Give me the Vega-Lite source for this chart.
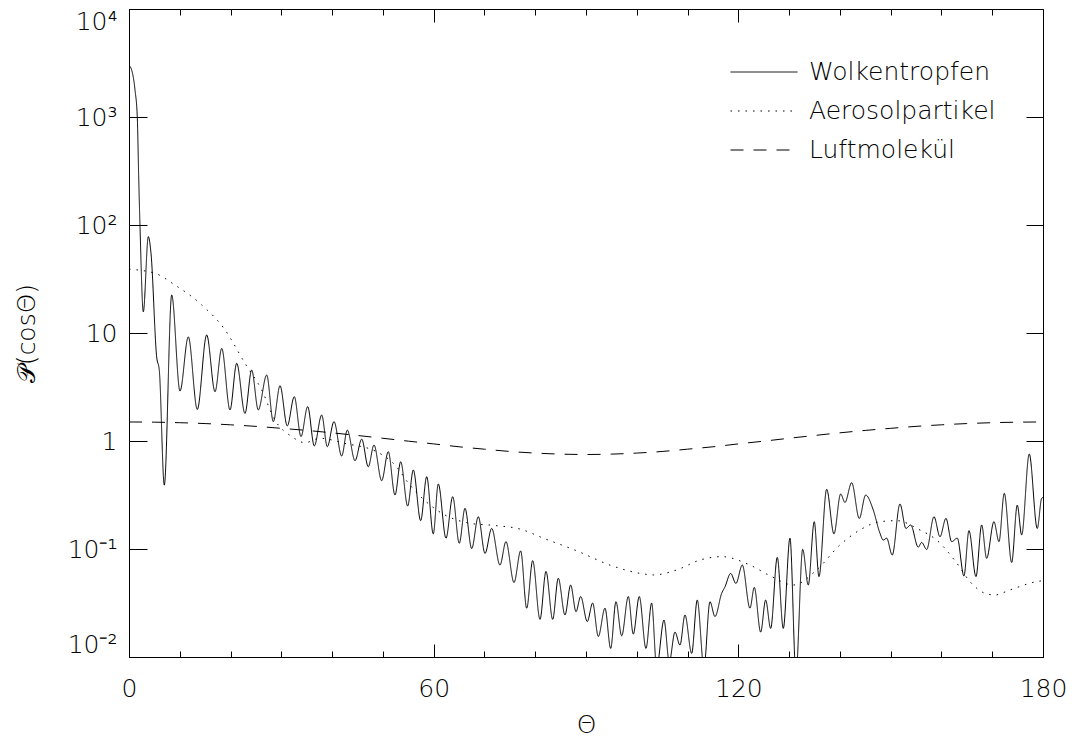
{
  "$schema": "https://vega.github.io/schema/vega-lite/v6.json",
  "width": 914,
  "height": 648,
  "autosize": {"type": "none"},
  "padding": {"left": 129, "top": 9, "right": 32, "bottom": 80},
  "background": "white",
  "config": {
    "view": {"stroke": "black", "strokeWidth": 1},
    "font": "DejaVu Sans",
    "axis": {"grid": false, "domainColor": "black", "tickColor": "black", "tickWidth": 1, "labelColor": "black", "titleColor": "black", "labelFont": "DejaVu Sans", "titleFont": "DejaVu Sans", "labelFontWeight": 200, "titleFontWeight": 200, "labelFontSize": 25, "titleFontSize": 25}
  },
  "datasets": {
    "d": [
      {"t": 0, "P": 3000, "s": "Wolkentropfen"},
      {"t": 0.53, "P": 2720, "s": "Wolkentropfen"},
      {"t": 1.18, "P": 1780, "s": "Wolkentropfen"},
      {"t": 1.63, "P": 1000, "s": "Wolkentropfen"},
      {"t": 1.91, "P": 277, "s": "Wolkentropfen"},
      {"t": 2.17, "P": 96, "s": "Wolkentropfen"},
      {"t": 2.82, "P": 15.7, "s": "Wolkentropfen"},
      {"t": 3.8, "P": 78, "s": "Wolkentropfen"},
      {"t": 4.33, "P": 55, "s": "Wolkentropfen"},
      {"t": 5.45, "P": 6.0, "s": "Wolkentropfen"},
      {"t": 5.97, "P": 4.5, "s": "Wolkentropfen"},
      {"t": 6.95, "P": 0.39, "s": "Wolkentropfen"},
      {"t": 8.41, "P": 22.5, "s": "Wolkentropfen"},
      {"t": 10.04, "P": 2.9, "s": "Wolkentropfen"},
      {"t": 11.68, "P": 9.2, "s": "Wolkentropfen"},
      {"t": 13.45, "P": 1.96, "s": "Wolkentropfen"},
      {"t": 15.3, "P": 9.6, "s": "Wolkentropfen"},
      {"t": 16.94, "P": 2.86, "s": "Wolkentropfen"},
      {"t": 18.26, "P": 7.2, "s": "Wolkentropfen"},
      {"t": 19.89, "P": 1.94, "s": "Wolkentropfen"},
      {"t": 21.21, "P": 5.24, "s": "Wolkentropfen"},
      {"t": 22.84, "P": 1.8, "s": "Wolkentropfen"},
      {"t": 24.16, "P": 4.54, "s": "Wolkentropfen"},
      {"t": 25.46, "P": 1.94, "s": "Wolkentropfen"},
      {"t": 27.12, "P": 4.08, "s": "Wolkentropfen"},
      {"t": 28.42, "P": 1.51, "s": "Wolkentropfen"},
      {"t": 29.74, "P": 3.25, "s": "Wolkentropfen"},
      {"t": 31.17, "P": 1.38, "s": "Wolkentropfen"},
      {"t": 32.55, "P": 2.57, "s": "Wolkentropfen"},
      {"t": 33.87, "P": 1.1, "s": "Wolkentropfen"},
      {"t": 35.19, "P": 2.08, "s": "Wolkentropfen"},
      {"t": 36.49, "P": 0.9, "s": "Wolkentropfen"},
      {"t": 37.95, "P": 1.74, "s": "Wolkentropfen"},
      {"t": 39.05, "P": 0.886, "s": "Wolkentropfen"},
      {"t": 40.37, "P": 1.51, "s": "Wolkentropfen"},
      {"t": 41.89, "P": 0.726, "s": "Wolkentropfen"},
      {"t": 42.99, "P": 1.26, "s": "Wolkentropfen"},
      {"t": 44.51, "P": 0.657, "s": "Wolkentropfen"},
      {"t": 45.83, "P": 1.04, "s": "Wolkentropfen"},
      {"t": 47.12, "P": 0.578, "s": "Wolkentropfen"},
      {"t": 48.25, "P": 0.918, "s": "Wolkentropfen"},
      {"t": 49.76, "P": 0.429, "s": "Wolkentropfen"},
      {"t": 51.06, "P": 0.796, "s": "Wolkentropfen"},
      {"t": 52.38, "P": 0.316, "s": "Wolkentropfen"},
      {"t": 53.51, "P": 0.643, "s": "Wolkentropfen"},
      {"t": 54.88, "P": 0.25, "s": "Wolkentropfen"},
      {"t": 55.99, "P": 0.539, "s": "Wolkentropfen"},
      {"t": 57.44, "P": 0.183, "s": "Wolkentropfen"},
      {"t": 58.63, "P": 0.467, "s": "Wolkentropfen"},
      {"t": 59.92, "P": 0.138, "s": "Wolkentropfen"},
      {"t": 60.91, "P": 0.4, "s": "Wolkentropfen"},
      {"t": 62.43, "P": 0.126, "s": "Wolkentropfen"},
      {"t": 63.75, "P": 0.305, "s": "Wolkentropfen"},
      {"t": 65.04, "P": 0.113, "s": "Wolkentropfen"},
      {"t": 66.17, "P": 0.238, "s": "Wolkentropfen"},
      {"t": 67.49, "P": 0.101, "s": "Wolkentropfen"},
      {"t": 68.79, "P": 0.199, "s": "Wolkentropfen"},
      {"t": 70.11, "P": 0.091, "s": "Wolkentropfen"},
      {"t": 71.43, "P": 0.155, "s": "Wolkentropfen"},
      {"t": 73.06, "P": 0.071, "s": "Wolkentropfen"},
      {"t": 74.24, "P": 0.117, "s": "Wolkentropfen"},
      {"t": 75.82, "P": 0.049, "s": "Wolkentropfen"},
      {"t": 77.14, "P": 0.096, "s": "Wolkentropfen"},
      {"t": 78.32, "P": 0.0283, "s": "Wolkentropfen"},
      {"t": 79.5, "P": 0.078, "s": "Wolkentropfen"},
      {"t": 80.94, "P": 0.0223, "s": "Wolkentropfen"},
      {"t": 82.12, "P": 0.062, "s": "Wolkentropfen"},
      {"t": 83.44, "P": 0.0223, "s": "Wolkentropfen"},
      {"t": 84.54, "P": 0.0536, "s": "Wolkentropfen"},
      {"t": 85.86, "P": 0.0245, "s": "Wolkentropfen"},
      {"t": 86.98, "P": 0.0464, "s": "Wolkentropfen"},
      {"t": 88.03, "P": 0.0263, "s": "Wolkentropfen"},
      {"t": 88.95, "P": 0.0363, "s": "Wolkentropfen"},
      {"t": 90.25, "P": 0.0213, "s": "Wolkentropfen"},
      {"t": 91.31, "P": 0.0316, "s": "Wolkentropfen"},
      {"t": 92.42, "P": 0.0155, "s": "Wolkentropfen"},
      {"t": 93.74, "P": 0.0283, "s": "Wolkentropfen"},
      {"t": 94.86, "P": 0.012, "s": "Wolkentropfen"},
      {"t": 95.9, "P": 0.0325, "s": "Wolkentropfen"},
      {"t": 97.03, "P": 0.0157, "s": "Wolkentropfen"},
      {"t": 98.33, "P": 0.0363, "s": "Wolkentropfen"},
      {"t": 99.31, "P": 0.0163, "s": "Wolkentropfen"},
      {"t": 100.49, "P": 0.0363, "s": "Wolkentropfen"},
      {"t": 101.81, "P": 0.012, "s": "Wolkentropfen"},
      {"t": 102.93, "P": 0.0316, "s": "Wolkentropfen"},
      {"t": 103.92, "P": 0.008, "s": "Wolkentropfen"},
      {"t": 105.36, "P": 0.022, "s": "Wolkentropfen"},
      {"t": 106.4, "P": 0.009, "s": "Wolkentropfen"},
      {"t": 107.52, "P": 0.017, "s": "Wolkentropfen"},
      {"t": 108.51, "P": 0.0129, "s": "Wolkentropfen"},
      {"t": 109.49, "P": 0.0245, "s": "Wolkentropfen"},
      {"t": 110.81, "P": 0.0108, "s": "Wolkentropfen"},
      {"t": 111.91, "P": 0.0337, "s": "Wolkentropfen"},
      {"t": 113.23, "P": 0.008, "s": "Wolkentropfen"},
      {"t": 114.41, "P": 0.0325, "s": "Wolkentropfen"},
      {"t": 115.4, "P": 0.0237, "s": "Wolkentropfen"},
      {"t": 116.72, "P": 0.0389, "s": "Wolkentropfen"},
      {"t": 117.37, "P": 0.0446, "s": "Wolkentropfen"},
      {"t": 118.49, "P": 0.0594, "s": "Wolkentropfen"},
      {"t": 119.53, "P": 0.048, "s": "Wolkentropfen"},
      {"t": 120.78, "P": 0.071, "s": "Wolkentropfen"},
      {"t": 122.29, "P": 0.0283, "s": "Wolkentropfen"},
      {"t": 123.14, "P": 0.0441, "s": "Wolkentropfen"},
      {"t": 124.4, "P": 0.017, "s": "Wolkentropfen"},
      {"t": 125.38, "P": 0.0337, "s": "Wolkentropfen"},
      {"t": 126.37, "P": 0.0184, "s": "Wolkentropfen"},
      {"t": 127.67, "P": 0.0837, "s": "Wolkentropfen"},
      {"t": 128.85, "P": 0.0184, "s": "Wolkentropfen"},
      {"t": 130.17, "P": 0.126, "s": "Wolkentropfen"},
      {"t": 131.35, "P": 0.007, "s": "Wolkentropfen"},
      {"t": 132.67, "P": 0.0994, "s": "Wolkentropfen"},
      {"t": 133.77, "P": 0.0464, "s": "Wolkentropfen"},
      {"t": 134.95, "P": 0.179, "s": "Wolkentropfen"},
      {"t": 135.88, "P": 0.0555, "s": "Wolkentropfen"},
      {"t": 137.4, "P": 0.357, "s": "Wolkentropfen"},
      {"t": 138.83, "P": 0.138, "s": "Wolkentropfen"},
      {"t": 140.15, "P": 0.323, "s": "Wolkentropfen"},
      {"t": 141.0, "P": 0.27, "s": "Wolkentropfen"},
      {"t": 142.32, "P": 0.411, "s": "Wolkentropfen"},
      {"t": 143.82, "P": 0.192, "s": "Wolkentropfen"},
      {"t": 145.08, "P": 0.316, "s": "Wolkentropfen"},
      {"t": 146.57, "P": 0.23, "s": "Wolkentropfen"},
      {"t": 147.89, "P": 0.14, "s": "Wolkentropfen"},
      {"t": 148.54, "P": 0.121, "s": "Wolkentropfen"},
      {"t": 149.21, "P": 0.126, "s": "Wolkentropfen"},
      {"t": 150.31, "P": 0.088, "s": "Wolkentropfen"},
      {"t": 151.83, "P": 0.261, "s": "Wolkentropfen"},
      {"t": 153.01, "P": 0.155, "s": "Wolkentropfen"},
      {"t": 153.94, "P": 0.167, "s": "Wolkentropfen"},
      {"t": 155.43, "P": 0.104, "s": "Wolkentropfen"},
      {"t": 156.1, "P": 0.115, "s": "Wolkentropfen"},
      {"t": 157.09, "P": 0.099, "s": "Wolkentropfen"},
      {"t": 158.53, "P": 0.199, "s": "Wolkentropfen"},
      {"t": 159.71, "P": 0.13, "s": "Wolkentropfen"},
      {"t": 160.89, "P": 0.192, "s": "Wolkentropfen"},
      {"t": 162.01, "P": 0.117, "s": "Wolkentropfen"},
      {"t": 163.12, "P": 0.126, "s": "Wolkentropfen"},
      {"t": 164.43, "P": 0.0562, "s": "Wolkentropfen"},
      {"t": 165.42, "P": 0.148, "s": "Wolkentropfen"},
      {"t": 166.8, "P": 0.0555, "s": "Wolkentropfen"},
      {"t": 167.92, "P": 0.167, "s": "Wolkentropfen"},
      {"t": 168.9, "P": 0.082, "s": "Wolkentropfen"},
      {"t": 170.34, "P": 0.179, "s": "Wolkentropfen"},
      {"t": 171.33, "P": 0.117, "s": "Wolkentropfen"},
      {"t": 172.37, "P": 0.328, "s": "Wolkentropfen"},
      {"t": 173.83, "P": 0.075, "s": "Wolkentropfen"},
      {"t": 174.93, "P": 0.255, "s": "Wolkentropfen"},
      {"t": 175.8, "P": 0.135, "s": "Wolkentropfen"},
      {"t": 177.29, "P": 0.758, "s": "Wolkentropfen"},
      {"t": 178.87, "P": 0.155, "s": "Wolkentropfen"},
      {"t": 179.73, "P": 0.294, "s": "Wolkentropfen"},
      {"t": 180, "P": 0.3, "s": "Wolkentropfen"},
      {"t": 0, "P": 39, "s": "Aerosolpartikel"},
      {"t": 5.12, "P": 35.7, "s": "Aerosolpartikel"},
      {"t": 9.06, "P": 27.8, "s": "Aerosolpartikel"},
      {"t": 14.32, "P": 18.2, "s": "Aerosolpartikel"},
      {"t": 18.9, "P": 10.7, "s": "Aerosolpartikel"},
      {"t": 22.84, "P": 5.24, "s": "Aerosolpartikel"},
      {"t": 26.13, "P": 2.97, "s": "Aerosolpartikel"},
      {"t": 28.75, "P": 1.56, "s": "Aerosolpartikel"},
      {"t": 32.04, "P": 1.1, "s": "Aerosolpartikel"},
      {"t": 34.66, "P": 0.965, "s": "Aerosolpartikel"},
      {"t": 37.61, "P": 1.06, "s": "Aerosolpartikel"},
      {"t": 42.5, "P": 0.95, "s": "Aerosolpartikel"},
      {"t": 48.78, "P": 0.796, "s": "Aerosolpartikel"},
      {"t": 52.38, "P": 0.6, "s": "Aerosolpartikel"},
      {"t": 55.34, "P": 0.39, "s": "Aerosolpartikel"},
      {"t": 60.59, "P": 0.23, "s": "Aerosolpartikel"},
      {"t": 67.15, "P": 0.173, "s": "Aerosolpartikel"},
      {"t": 72.07, "P": 0.165, "s": "Aerosolpartikel"},
      {"t": 77.0, "P": 0.153, "s": "Aerosolpartikel"},
      {"t": 81.59, "P": 0.126, "s": "Aerosolpartikel"},
      {"t": 88.16, "P": 0.0963, "s": "Aerosolpartikel"},
      {"t": 94.72, "P": 0.071, "s": "Aerosolpartikel"},
      {"t": 101.28, "P": 0.0588, "s": "Aerosolpartikel"},
      {"t": 103.25, "P": 0.0575, "s": "Aerosolpartikel"},
      {"t": 107.86, "P": 0.064, "s": "Aerosolpartikel"},
      {"t": 112.45, "P": 0.079, "s": "Aerosolpartikel"},
      {"t": 116.72, "P": 0.085, "s": "Aerosolpartikel"},
      {"t": 122.29, "P": 0.071, "s": "Aerosolpartikel"},
      {"t": 126.57, "P": 0.0555, "s": "Aerosolpartikel"},
      {"t": 130.82, "P": 0.0464, "s": "Aerosolpartikel"},
      {"t": 135.43, "P": 0.064, "s": "Aerosolpartikel"},
      {"t": 140.02, "P": 0.109, "s": "Aerosolpartikel"},
      {"t": 143.95, "P": 0.15, "s": "Aerosolpartikel"},
      {"t": 147.89, "P": 0.179, "s": "Aerosolpartikel"},
      {"t": 151.18, "P": 0.183, "s": "Aerosolpartikel"},
      {"t": 155.77, "P": 0.15, "s": "Aerosolpartikel"},
      {"t": 159.06, "P": 0.121, "s": "Aerosolpartikel"},
      {"t": 163.0, "P": 0.0742, "s": "Aerosolpartikel"},
      {"t": 165.62, "P": 0.0499, "s": "Aerosolpartikel"},
      {"t": 168.57, "P": 0.0389, "s": "Aerosolpartikel"},
      {"t": 170.54, "P": 0.0375, "s": "Aerosolpartikel"},
      {"t": 173.49, "P": 0.0418, "s": "Aerosolpartikel"},
      {"t": 178.75, "P": 0.0499, "s": "Aerosolpartikel"},
      {"t": 180, "P": 0.051, "s": "Aerosolpartikel"},
      {"t": 0, "P": 1.5, "s": "Luftmolekül"},
      {"t": 5, "P": 1.494, "s": "Luftmolekül"},
      {"t": 10, "P": 1.477, "s": "Luftmolekül"},
      {"t": 15, "P": 1.45, "s": "Luftmolekül"},
      {"t": 20, "P": 1.412, "s": "Luftmolekül"},
      {"t": 25, "P": 1.366, "s": "Luftmolekül"},
      {"t": 30, "P": 1.31, "s": "Luftmolekül"},
      {"t": 35, "P": 1.253, "s": "Luftmolekül"},
      {"t": 40, "P": 1.19, "s": "Luftmolekül"},
      {"t": 45, "P": 1.125, "s": "Luftmolekül"},
      {"t": 50, "P": 1.06, "s": "Luftmolekül"},
      {"t": 55, "P": 0.997, "s": "Luftmolekül"},
      {"t": 60, "P": 0.94, "s": "Luftmolekül"},
      {"t": 65, "P": 0.884, "s": "Luftmolekül"},
      {"t": 70, "P": 0.84, "s": "Luftmolekül"},
      {"t": 75, "P": 0.8, "s": "Luftmolekül"},
      {"t": 80, "P": 0.773, "s": "Luftmolekül"},
      {"t": 85, "P": 0.756, "s": "Luftmolekül"},
      {"t": 90, "P": 0.75, "s": "Luftmolekül"},
      {"t": 95, "P": 0.756, "s": "Luftmolekül"},
      {"t": 100, "P": 0.773, "s": "Luftmolekül"},
      {"t": 105, "P": 0.8, "s": "Luftmolekül"},
      {"t": 110, "P": 0.84, "s": "Luftmolekül"},
      {"t": 115, "P": 0.884, "s": "Luftmolekül"},
      {"t": 120, "P": 0.94, "s": "Luftmolekül"},
      {"t": 125, "P": 0.997, "s": "Luftmolekül"},
      {"t": 130, "P": 1.06, "s": "Luftmolekül"},
      {"t": 135, "P": 1.125, "s": "Luftmolekül"},
      {"t": 140, "P": 1.19, "s": "Luftmolekül"},
      {"t": 145, "P": 1.253, "s": "Luftmolekül"},
      {"t": 150, "P": 1.31, "s": "Luftmolekül"},
      {"t": 155, "P": 1.366, "s": "Luftmolekül"},
      {"t": 160, "P": 1.412, "s": "Luftmolekül"},
      {"t": 165, "P": 1.45, "s": "Luftmolekül"},
      {"t": 170, "P": 1.477, "s": "Luftmolekül"},
      {"t": 175, "P": 1.494, "s": "Luftmolekül"},
      {"t": 180, "P": 1.5, "s": "Luftmolekül"}
    ]
  },
  "data": {"name": "d"},
  "layer": [
    {
      "mark": {"type": "line", "clip": true, "color": "black", "strokeWidth": 1, "interpolate": "monotone"},
      "encoding": {
        "x": {
          "field": "t", "type": "quantitative",
          "scale": {"domain": [0, 180], "nice": false, "zero": false},
          "axis": {
            "orient": "bottom",
            "values": [0, 10, 20, 30, 40, 50, 60, 70, 80, 90, 100, 110, 120, 130, 140, 150, 160, 170, 180],
            "labelExpr": "datum.value % 60 === 0 ? datum.label : ''",
            "tickSize": {"condition": {"test": "datum.value % 60 === 0", "value": -13}, "value": -6},
            "labelPadding": 32,
            "labelBaseline": "top",
            "labelFlush": false,
            "labelOverlap": false,
            "title": "Θ",
            "titleX": 457,
            "titleY": 67,
            "titleBaseline": "middle",
            "titleAlign": "center"
          }
        },
        "y": {
          "field": "P", "type": "quantitative",
          "scale": {"type": "log", "domain": [0.01, 10000], "nice": false},
          "axis": {
            "orient": "left",
            "values": [0.01, 0.1, 1, 10, 100, 1000, 10000],
            "labelExpr": "datum.value == 10000 ? '10⁴' : datum.value == 1000 ? '10³' : datum.value == 100 ? '10²' : datum.value == 10 ? '10' : datum.value == 1 ? '1' : datum.value == 0.1 ? '10⁻¹' : '10⁻²'",
            "tickSize": -18,
            "labelPadding": 30,
            "labelFlush": true,
            "labelOverlap": false,
            "title": "𝒫(cosΘ)",
            "titleX": -103,
            "titleY": 324,
            "titleAngle": -90,
            "titleBaseline": "middle",
            "titleAlign": "center"
          }
        },
        "strokeDash": {
          "field": "s", "type": "nominal",
          "scale": {"domain": ["Wolkentropfen", "Aerosolpartikel", "Luftmolekül"], "range": [[1, 0], [1.5, 6], [13, 10]]},
          "legend": {
            "title": null,
            "orient": "none",
            "legendX": 601,
            "legendY": 51,
            "padding": 0,
            "symbolType": "stroke",
            "symbolSize": 4489,
            "symbolStrokeColor": "black",
            "symbolStrokeWidth": 1,
            "clipHeight": 24,
            "rowPadding": 14,
            "labelOffset": 11,
            "labelFontSize": 25,
            "labelFont": "DejaVu Sans",
            "labelFontWeight": 200,
            "labelColor": "black",
            "labelLimit": 400
          }
        }
      }
    },
    {
      "mark": {"type": "point", "opacity": 0},
      "encoding": {
        "x": {
          "field": "t", "type": "quantitative",
          "axis": {
            "orient": "top",
            "values": [0, 10, 20, 30, 40, 50, 60, 70, 80, 90, 100, 110, 120, 130, 140, 150, 160, 170, 180],
            "labels": false,
            "domain": false,
            "title": null,
            "tickSize": {"condition": {"test": "datum.value % 60 === 0", "value": -13}, "value": -6}
          }
        },
        "y": {
          "field": "P", "type": "quantitative",
          "axis": {
            "orient": "right",
            "values": [0.01, 0.1, 1, 10, 100, 1000, 10000],
            "labels": false,
            "domain": false,
            "title": null,
            "tickSize": -17
          }
        }
      }
    }
  ],
  "resolve": {"axis": {"x": "independent", "y": "independent"}}
}
